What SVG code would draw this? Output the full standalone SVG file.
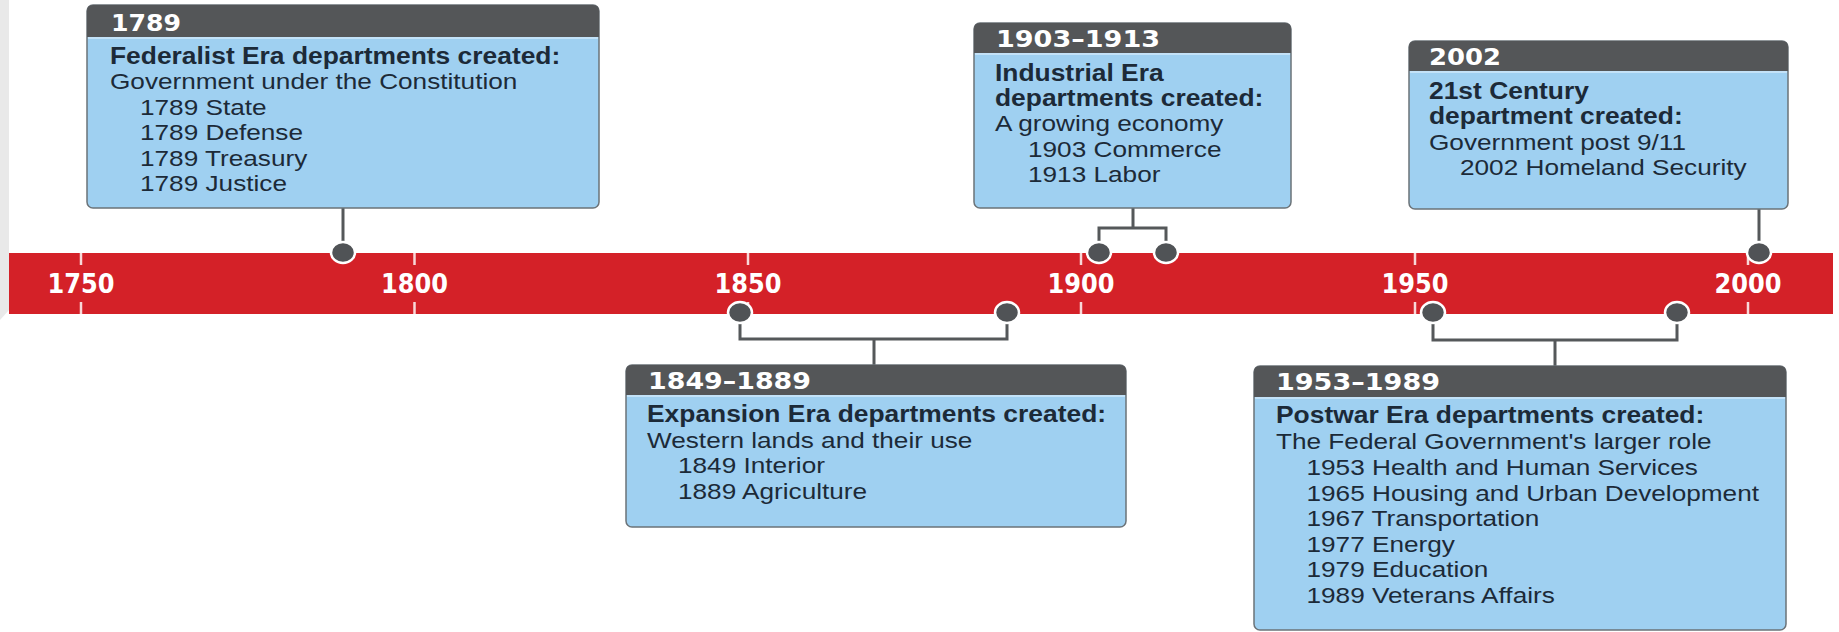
<svg xmlns="http://www.w3.org/2000/svg" width="1839" height="632" viewBox="0 0 1839 632">
<style>
.box{fill:#9fd0f1;stroke:#6b7378;stroke-width:1.5}
.hdr{fill:#545658}
.hl{stroke:#cfe9fa;stroke-width:1.5}
.ht{font-family:"DejaVu Sans","Liberation Sans",sans-serif;font-weight:bold;font-size:23px;fill:#fff}
.b{font-family:"Liberation Sans",Arial,sans-serif;font-weight:bold;font-size:24px;fill:#1c2a38}
.r{font-family:"Liberation Sans",Arial,sans-serif;font-size:22px;fill:#1c2a38}
.ax{font-family:"DejaVu Sans","Liberation Sans",sans-serif;font-weight:bold;font-size:26px;fill:#fff}
.tick{stroke:#f8d8d8;stroke-width:2.5}
.con{stroke:#55585a;stroke-width:3;fill:none}
.dot{fill:#505356;stroke:#fff;stroke-width:2.5}
</style>
<rect width="1839" height="632" fill="#fff"/>
<polygon points="0,0 9,0 9,310 0,320" fill="#e9e9e9"/>
<g id="axis">
<rect x="9" y="253" width="1824" height="61" fill="#d42128"/>
<g class="tick">
<line x1="81" y1="253" x2="81" y2="265"/><line x1="81" y1="302" x2="81" y2="314"/>
<line x1="414.5" y1="253" x2="414.5" y2="265"/><line x1="414.5" y1="302" x2="414.5" y2="314"/>
<line x1="748" y1="253" x2="748" y2="265"/><line x1="748" y1="302" x2="748" y2="314"/>
<line x1="1081" y1="253" x2="1081" y2="265"/><line x1="1081" y1="302" x2="1081" y2="314"/>
<line x1="1415" y1="253" x2="1415" y2="265"/><line x1="1415" y1="302" x2="1415" y2="314"/>
<line x1="1748" y1="253" x2="1748" y2="265"/><line x1="1748" y1="302" x2="1748" y2="314"/>
</g>
<text class="ax" x="47.5" y="293" textLength="67" lengthAdjust="spacingAndGlyphs">1750</text>
<text class="ax" x="381" y="293" textLength="67" lengthAdjust="spacingAndGlyphs">1800</text>
<text class="ax" x="714.5" y="293" textLength="67" lengthAdjust="spacingAndGlyphs">1850</text>
<text class="ax" x="1047.5" y="293" textLength="67" lengthAdjust="spacingAndGlyphs">1900</text>
<text class="ax" x="1381.5" y="293" textLength="67" lengthAdjust="spacingAndGlyphs">1950</text>
<text class="ax" x="1714.5" y="293" textLength="67" lengthAdjust="spacingAndGlyphs">2000</text>
</g>
<g id="connectors">
<path class="con" d="M343,208 V252"/>
<path class="con" d="M1133,208 V228 M1099,252 V228 H1166 V252"/>
<path class="con" d="M1759,209 V252"/>
<path class="con" d="M740,313 V339 H1007 V313 M874,339 V365"/>
<path class="con" d="M1433,313 V340 H1677 V313 M1555,340 V366"/>
<ellipse class="dot" cx="343" cy="252.5" rx="12" ry="10.5"/>
<ellipse class="dot" cx="1099" cy="252.5" rx="12" ry="10.5"/>
<ellipse class="dot" cx="1166" cy="252.5" rx="12" ry="10.5"/>
<ellipse class="dot" cx="1759" cy="252.5" rx="12" ry="10.5"/>
<ellipse class="dot" cx="740" cy="312.5" rx="12" ry="10.5"/>
<ellipse class="dot" cx="1007" cy="312.5" rx="12" ry="10.5"/>
<ellipse class="dot" cx="1433" cy="312.5" rx="12" ry="10.5"/>
<ellipse class="dot" cx="1677" cy="312.5" rx="12" ry="10.5"/>
</g>
<g id="box1789">
<rect class="box" x="87" y="5" width="512" height="203" rx="6"/>
<path class="hdr" d="M87,37 V11 Q87,5 93,5 H593 Q599,5 599,11 V37 Z"/>
<line class="hl" x1="88" y1="38" x2="598" y2="38"/>
<text class="ht" x="111" y="31" textLength="70" lengthAdjust="spacingAndGlyphs">1789</text>
<text class="b" transform="translate(110 63.5) scale(1.1 1)">Federalist Era departments created:</text>
<text class="r" transform="translate(110 89) scale(1.19 1)">Government under the Constitution</text>
<text class="r" transform="translate(140 114.5) scale(1.19 1)">1789 State</text>
<text class="r" transform="translate(140 140) scale(1.19 1)">1789 Defense</text>
<text class="r" transform="translate(140 165.5) scale(1.19 1)">1789 Treasury</text>
<text class="r" transform="translate(140 191) scale(1.19 1)">1789 Justice</text>
</g>
<g id="box1903">
<rect class="box" x="974" y="23" width="317" height="185" rx="6"/>
<path class="hdr" d="M974,53 V29 Q974,23 980,23 H1285 Q1291,23 1291,29 V53 Z"/>
<line class="hl" x1="975" y1="54" x2="1290" y2="54"/>
<text class="ht" x="996" y="47" textLength="164" lengthAdjust="spacingAndGlyphs">1903–1913</text>
<text class="b" transform="translate(995 80.7) scale(1.1 1)">Industrial Era</text>
<text class="b" transform="translate(995 106) scale(1.1 1)">departments created:</text>
<text class="r" transform="translate(995 131.3) scale(1.19 1)">A growing economy</text>
<text class="r" transform="translate(1028 156.7) scale(1.19 1)">1903 Commerce</text>
<text class="r" transform="translate(1028 182) scale(1.19 1)">1913 Labor</text>
</g>
<g id="box2002">
<rect class="box" x="1409" y="41" width="379" height="168" rx="6"/>
<path class="hdr" d="M1409,71 V47 Q1409,41 1415,41 H1782 Q1788,41 1788,47 V71 Z"/>
<line class="hl" x1="1410" y1="72" x2="1787" y2="72"/>
<text class="ht" x="1429" y="65" textLength="72" lengthAdjust="spacingAndGlyphs">2002</text>
<text class="b" transform="translate(1429 98.5) scale(1.1 1)">21st Century</text>
<text class="b" transform="translate(1429 124) scale(1.1 1)">department created:</text>
<text class="r" transform="translate(1429 149.5) scale(1.19 1)">Government post 9/11</text>
<text class="r" transform="translate(1460 175) scale(1.19 1)">2002 Homeland Security</text>
</g>
<g id="box1849">
<rect class="box" x="626" y="365" width="500" height="162" rx="6"/>
<path class="hdr" d="M626,395 V371 Q626,365 632,365 H1120 Q1126,365 1126,371 V395 Z"/>
<line class="hl" x1="627" y1="396" x2="1125" y2="396"/>
<text class="ht" x="648" y="389" textLength="163" lengthAdjust="spacingAndGlyphs">1849–1889</text>
<text class="b" transform="translate(647 422) scale(1.1 1)">Expansion Era departments created:</text>
<text class="r" transform="translate(647 447.5) scale(1.19 1)">Western lands and their use</text>
<text class="r" transform="translate(678 473) scale(1.19 1)">1849 Interior</text>
<text class="r" transform="translate(678 498.5) scale(1.19 1)">1889 Agriculture</text>
</g>
<g id="box1953">
<rect class="box" x="1254" y="366" width="532" height="264" rx="6"/>
<path class="hdr" d="M1254,397 V372 Q1254,366 1260,366 H1780 Q1786,366 1786,372 V397 Z"/>
<line class="hl" x1="1255" y1="398" x2="1785" y2="398"/>
<text class="ht" x="1276" y="390" textLength="164" lengthAdjust="spacingAndGlyphs">1953–1989</text>
<text class="b" transform="translate(1276 423) scale(1.1 1)">Postwar Era departments created:</text>
<text class="r" transform="translate(1276 449) scale(1.19 1)">The Federal Government's larger role</text>
<text class="r" transform="translate(1306.5 475) scale(1.19 1)">1953 Health and Human Services</text>
<text class="r" transform="translate(1306.5 500.5) scale(1.19 1)">1965 Housing and Urban Development</text>
<text class="r" transform="translate(1306.5 526) scale(1.19 1)">1967 Transportation</text>
<text class="r" transform="translate(1306.5 551.5) scale(1.19 1)">1977 Energy</text>
<text class="r" transform="translate(1306.5 577) scale(1.19 1)">1979 Education</text>
<text class="r" transform="translate(1306.5 602.5) scale(1.19 1)">1989 Veterans Affairs</text>
</g>
</svg>
